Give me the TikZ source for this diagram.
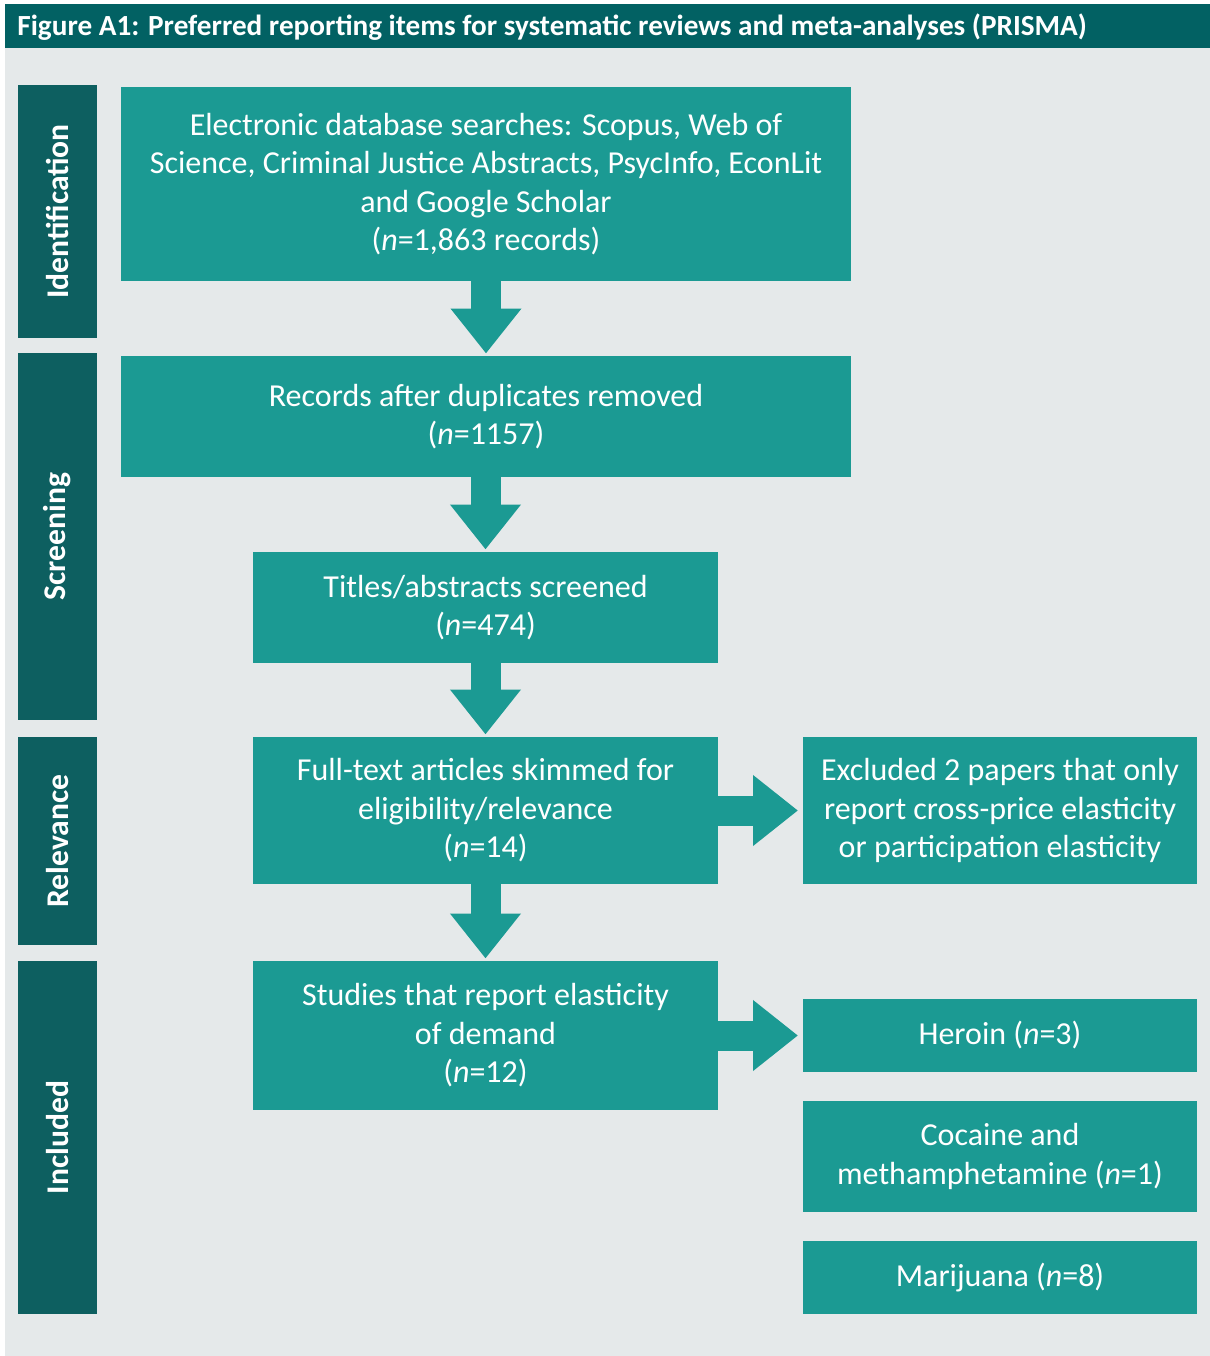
\documentclass[tikz,border=0pt]{standalone}
\usepackage{fontspec}
\setmainfont{Carlito}
\usetikzlibrary{arrows.meta}
\definecolor{bardark}{HTML}{026163}
\definecolor{stagedark}{HTML}{0D5F60}
\definecolor{boxteal}{HTML}{1B9A93}
\definecolor{panelgray}{HTML}{E5E9EA}
\tikzset{
  x=0.5pt, y=-0.5pt,
  box/.style={fill=boxteal, text=white, inner sep=0pt, outer sep=0pt,
    align=center, font=\fontsize{16}{19.25}\selectfont},
  stage/.style={fill=stagedark, text=white, inner sep=0pt, outer sep=0pt,
    minimum height=39.5pt, rotate=90, font=\bfseries\fontsize{15.8}{18}\selectfont},
  flow/.style={boxteal, line width=15pt,
    -{Triangle[width=34pt,length=22.5pt]}, shorten >=1.25pt},
}
\begin{document}
\begin{tikzpicture}
  \useasboundingbox (0,0) rectangle (1210,1356);
  \fill[panelgray] (5,47.7) rectangle (1210,1356);
  \fill[bardark] (5,4) rectangle (1210,47.7);
  \node[anchor=west, text=white, font=\bfseries\fontsize{14.6}{17}\selectfont, inner sep=0pt]
    (title) at (17,27.5) {Figure A1: Preferred reporting items for systematic reviews and meta-analyses (PRISMA)};

  % stages
  \node[stage, minimum width=126.5pt] (ident) at (57.5,211.5) {Identification};
  \node[stage, minimum width=183.5pt] (screen) at (57.5,536.5) {Screening};
  \node[stage, minimum width=104pt]   (relev) at (57.5,841) {Relevance};
  \node[stage, minimum width=176.5pt] (incl) at (57.5,1137.5) {Included};

  % flow boxes
  \node[box, minimum width=365pt, minimum height=97pt] (search) at (486,184)
    {Electronic database searches: Scopus, Web of\\ Science, Criminal Justice Abstracts, PsycInfo, EconLit\\ and Google Scholar\\ (\textit{n}=1,863 records)};
  \node[box, minimum width=365pt, minimum height=60.5pt] (dedup) at (486,416.5)
    {Records after duplicates removed\\ (\textit{n}=1157)};
  \node[box, minimum width=232.5pt, minimum height=55.5pt] (titles) at (485.5,607.5)
    {Titles/abstracts screened\\ (\textit{n}=474)};
  \node[box, minimum width=232.5pt, minimum height=73.5pt] (full) at (485.5,810.5)
    {Full-text articles skimmed for\\ eligibility/relevance\\ (\textit{n}=14)};
  \node[box, minimum width=197pt, minimum height=73.5pt] (excl) at (1000,810.5)
    {Excluded 2 papers that only\\ report cross-price elasticity\\ or participation elasticity};
  \node[box, minimum width=232.5pt, minimum height=74.5pt] (studies) at (485.5,1035.5)
    {Studies that report elasticity\\ of demand\\ (\textit{n}=12)};
  \node[box, minimum width=197pt, minimum height=36.5pt] (heroin) at (1000,1035.5)
    {Heroin (\textit{n}=3)};
  \node[box, minimum width=197pt, minimum height=55.5pt] (cocaine) at (1000,1156.5)
    {Cocaine and\\ methamphetamine (\textit{n}=1)};
  \node[box, minimum width=197pt, minimum height=36.5pt] (marij) at (1000,1277.5)
    {Marijuana (\textit{n}=8)};

  \draw[flow] (search) -- (dedup);
  \draw[flow] (dedup.south -| titles) -- (titles);
  \draw[flow] (titles) -- (full);
  \draw[flow] (full) -- (studies);
  \draw[flow, shorten >=2.5pt] (full) -- (excl);
  \draw[flow, shorten >=2.5pt] (studies) -- (heroin);
\end{tikzpicture}
\end{document}
